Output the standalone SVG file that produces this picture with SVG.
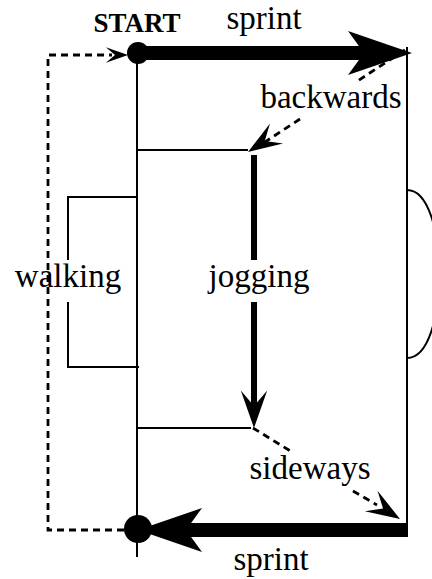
<svg xmlns="http://www.w3.org/2000/svg" width="432" height="579" viewBox="0 0 432 579">
<defs>
<style>
.thin{fill:none;stroke:#000;stroke-width:2}
.dash{fill:none;stroke:#000;stroke-width:2.8;stroke-dasharray:7 5}
.thick{fill:none;stroke:#000;stroke-width:14}
.jog{fill:none;stroke:#000;stroke-width:6}
.lbl{font-family:"Liberation Serif","Times New Roman",serif;font-size:33px;fill:#000;text-anchor:middle}
.bold{font-family:"Liberation Serif","Times New Roman",serif;font-size:27px;font-weight:bold;fill:#000;text-anchor:middle}
</style>
<path id="bighead" d="M0,0 L-64,-22 L-48,0 L-64,22 Z" fill="#000"/>
<path id="smallhead" d="M0,0 L-34,-12 L-20,0 L-34,12 Z" fill="#000"/>
</defs>
<rect width="432" height="579" fill="#fff"/>
<g id="connectors">
<line class="thin" x1="137" y1="53" x2="137" y2="557"/>
<line class="thin" x1="407" y1="47" x2="407" y2="537"/>
<path class="thin" d="M407,190 C450,190 450,358 407,358"/>
<line class="thick" x1="138" y1="53" x2="365" y2="53"/>
<use href="#bighead" transform="translate(412,53)"/>
<line class="thick" x1="407" y1="530" x2="186" y2="530"/>
<use href="#bighead" transform="translate(138,530) rotate(180)"/>
<line class="dash" x1="405" y1="50" x2="356" y2="82"/>
<line class="dash" x1="300" y1="119" x2="262" y2="144"/>
<use href="#smallhead" transform="translate(248,152) rotate(147)"/>
<line class="thin" x1="137" y1="150" x2="248" y2="150"/>
<line class="jog" x1="254" y1="155" x2="254" y2="260"/>
<line class="jog" x1="254" y1="302" x2="254" y2="410"/>
<use href="#smallhead" transform="translate(254,428) rotate(90) scale(1.1)"/>
<line class="thin" x1="137" y1="428" x2="251" y2="428"/>
<line class="dash" x1="253" y1="428" x2="292" y2="452"/>
<line class="dash" x1="353" y1="491" x2="377" y2="505"/>
<use href="#smallhead" transform="translate(400,519) rotate(32)"/>
<path class="thin" d="M137,197 H68 V260"/>
<path class="thin" d="M68,302 V367 H139"/>
<path class="dash" d="M124,530 H48 V55 H112"/>
<use href="#smallhead" transform="translate(128,55) scale(0.65)"/>
</g>
<g id="start">
<circle cx="138" cy="53" r="11" fill="#000"/>
<text class="bold" x="137" y="32">START</text>
</g>
<g id="end">
<circle cx="138" cy="529" r="14" fill="#000"/>
</g>
<g id="labels">
<text class="lbl" x="264" y="29">sprint</text>
<text class="lbl" x="331" y="108">backwards</text>
<text class="lbl" x="68" y="287">walking</text>
<text class="lbl" x="259" y="287">jogging</text>
<text class="lbl" x="310" y="479">sideways</text>
<text class="lbl" x="271" y="570">sprint</text>
</g>
</svg>
